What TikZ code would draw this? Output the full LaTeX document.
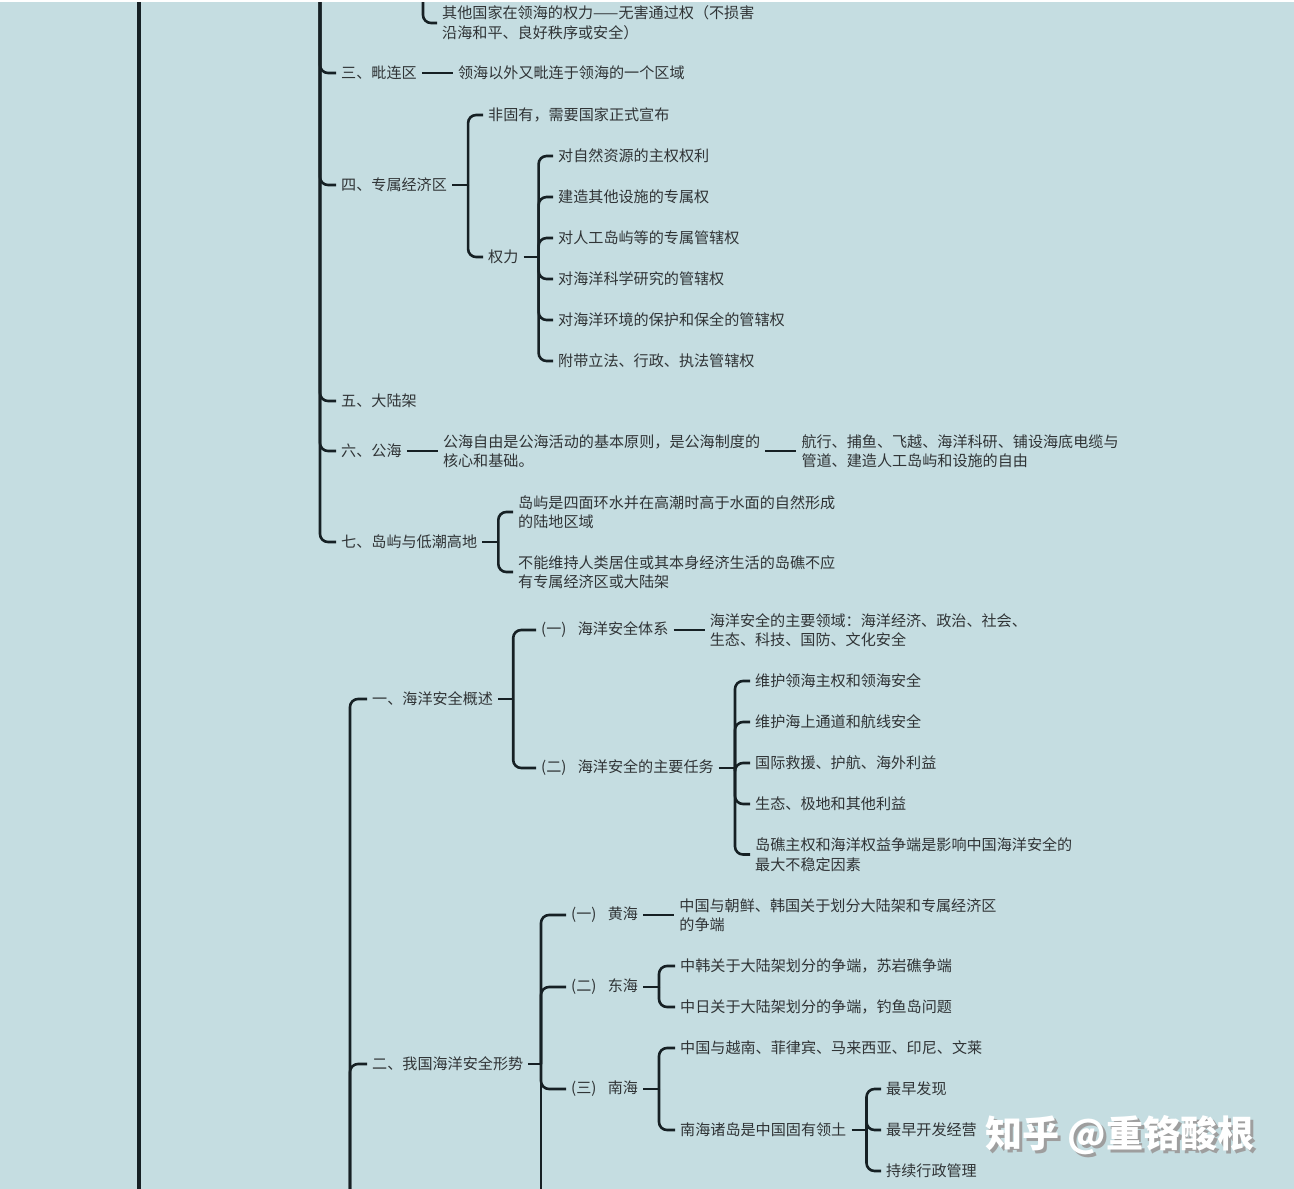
\documentclass[tikz,border=0pt]{standalone}
\usepackage{fontspec}
\newfontfamily\cjk{Noto Sans CJK SC}
\usetikzlibrary{positioning}

\definecolor{seabg}{RGB}{197,221,225}
\definecolor{linkdark}{RGB}{22,32,36}
\definecolor{textdark}{RGB}{48,52,54}
\newcommand{\parnum}[1]{(#1)\hspace{0.75em}}
\newcommand{\shadowed}[1]{\makebox[0pt][l]{\hspace{3pt}\raisebox{-3pt}{\color{black!38}#1}}#1}

\begin{document}
\begin{tikzpicture}[
	x=1pt, y=-1pt,
	font=\cjk\fontsize{15.1}{19.5}\selectfont,
	% Define styles
	topic/.style={anchor=west, inner xsep=5pt, inner ysep=2pt, align=left, text=textdark},
	link/.style={draw=linkdark, line width=2.6pt},
	branch/.style={link, rounded corners=8pt},
	trunk/.style={draw=linkdark, line width=3.8pt},
	watermark/.style={anchor=west, inner sep=0pt, text=white, font=\cjk\bfseries\fontsize{37}{40}\selectfont}
	]
	
	% background
	\useasboundingbox (0,0) rectangle (1294,1189);
	\fill[seabg] (0,0) rectangle (1294,1189);
	\fill[white] (0,0) rectangle (1294,2);
	
	% left line and free ends of the trunks
	\coordinate (lefttop) at (139,2);
	\coordinate (leftbot) at (139,1189);
	\coordinate (top320) at (320,2);
	\coordinate (top423) at (423,2);
	\coordinate (bot350) at (350,1195);
	\coordinate (bot541) at (541,1195);
	\draw[trunk] (lefttop) -- (leftbot);
	
	% 1. Upper part (zones of the sea)
	\node[topic] (rights) at (437,23) {其他国家在领海的权力——无害通过权（不损害\\沿海和平、良好秩序或安全）};
	\draw[branch] (top423) |- (rights.west);
	
	\node[topic] (contig) at (336,73) {三、毗连区};
	\node[topic, right=31pt of contig] (contigdef) {领海以外又毗连于领海的一个区域};
	
	\node[topic] (eez) at (336,185) {四、专属经济区};
	\coordinate[right=16pt of eez] (eezb);
	\node[topic] (eezdecl) at (483,115) {非固有，需要国家正式宣布};
	\node[topic] (power) at (483,257) {权力};
	\coordinate[right=15pt of power] (powerb);
	\node[topic] (power1) at (553,156) {对自然资源的主权权利};
	\node[topic] (power2) at (553,197) {建造其他设施的专属权};
	\node[topic] (power3) at (553,238) {对人工岛屿等的专属管辖权};
	\node[topic] (power4) at (553,279) {对海洋科学研究的管辖权};
	\node[topic] (power5) at (553,320) {对海洋环境的保护和保全的管辖权};
	\node[topic] (power6) at (553,361) {附带立法、行政、执法管辖权};
	
	\node[topic] (shelf) at (336,401) {五、大陆架};
	
	\node[topic] (highsea) at (336,451) {六、公海};
	\node[topic, right=31pt of highsea] (freedom) {公海自由是公海活动的基本原则，是公海制度的\\核心和基础。};
	\node[topic, right=31pt of freedom] (freelist) {航行、捕鱼、飞越、海洋科研、铺设海底电缆与\\管道、建造人工岛屿和设施的自由};
	
	\node[topic] (island) at (336,542) {七、岛屿与低潮高地};
	\coordinate[right=16pt of island] (islandb);
	\node[topic] (island1) at (513,512) {岛屿是四面环水并在高潮时高于水面的自然形成\\的陆地区域};
	\node[topic] (island2) at (513,572) {不能维持人类居住或其本身经济生活的岛礁不应\\有专属经济区或大陆架};
	
	% trunk branches
	\draw[branch] (top320) |- (contig.west);
	\draw[branch] (top320) |- (eez.west);
	\draw[branch] (top320) |- (shelf.west);
	\draw[branch] (top320) |- (highsea.west);
	\draw[branch] (top320) |- (island.west);
	
	\draw[link] (contig) -- (contigdef);
	\draw[link] (eez) -- (eezb);
	\draw[branch] (eezb) |- (eezdecl.west);
	\draw[branch] (eezb) |- (power.west);
	\draw[link] (power) -- (powerb);
	\draw[branch] (powerb) |- (power1.west);
	\draw[branch] (powerb) |- (power2.west);
	\draw[branch] (powerb) |- (power3.west);
	\draw[branch] (powerb) |- (power4.west);
	\draw[branch] (powerb) |- (power5.west);
	\draw[branch] (powerb) |- (power6.west);
	\draw[link] (highsea) -- (freedom);
	\draw[link] (freedom) -- (freelist);
	\draw[link] (island) -- (islandb);
	\draw[branch] (islandb) |- (island1.west);
	\draw[branch] (islandb) |- (island2.west);
	
	% 2. Lower part (maritime security)
	\node[topic] (secover) at (367,699) {一、海洋安全概述};
	\coordinate[right=15pt of secover] (secoverb);
	\node[topic] (system) at (536,630) {\parnum{一}海洋安全体系};
	\node[topic, right=31pt of system] (fields) {海洋安全的主要领域：海洋经济、政治、社会、\\生态、科技、国防、文化安全};
	\node[topic] (tasks) at (536,768) {\parnum{二}海洋安全的主要任务};
	\coordinate (tasksb) at (735,768);
	\node[topic] (task1) at (750,681) {维护领海主权和领海安全};
	\node[topic] (task2) at (750,722) {维护海上通道和航线安全};
	\node[topic] (task3) at (750,763) {国际救援、护航、海外利益};
	\node[topic] (task4) at (750,804) {生态、极地和其他利益};
	\node[topic] (task5) at (750,854.5) {岛礁主权和海洋权益争端是影响中国海洋安全的\\最大不稳定因素};
	
	\node[topic] (situation) at (367,1064) {二、我国海洋安全形势};
	\coordinate (situationb) at (541,1064);
	\node[topic] (yellow) at (566,915) {\parnum{一}黄海};
	\node[topic, right=31pt of yellow] (yellowd) {中国与朝鲜、韩国关于划分大陆架和专属经济区\\的争端};
	\node[topic] (east) at (566,987) {\parnum{二}东海};
	\coordinate (eastb) at (659,987);
	\node[topic] (east1) at (675,966) {中韩关于大陆架划分的争端，苏岩礁争端};
	\node[topic] (east2) at (675,1007) {中日关于大陆架划分的争端，钓鱼岛问题};
	\node[topic] (south) at (566,1089) {\parnum{三}南海};
	\coordinate (southb) at (659,1089);
	\node[topic] (south1) at (675,1048) {中国与越南、菲律宾、马来西亚、印尼、文莱};
	\node[topic] (south2) at (675,1130) {南海诸岛是中国固有领土};
	\coordinate[right=15pt of south2] (south2b);
	\node[topic] (claim1) at (881,1089) {最早发现};
	\node[topic] (claim2) at (881,1130) {最早开发经营};
	\node[topic] (claim3) at (881,1171) {持续行政管理};
	
	\draw[branch] (bot350) |- (secover.west);
	\draw[branch] (bot350) |- (situation.west);
	\draw[link] (secover) -- (secoverb);
	\draw[branch] (secoverb) |- (system.west);
	\draw[branch] (secoverb) |- (tasks.west);
	\draw[link] (system) -- (fields);
	\draw[link] (tasks) -- (tasksb);
	\draw[branch] (tasksb) |- (task1.west);
	\draw[branch] (tasksb) |- (task2.west);
	\draw[branch] (tasksb) |- (task3.west);
	\draw[branch] (tasksb) |- (task4.west);
	\draw[branch] (tasksb) |- (task5.west);
	
	\draw[link] (situation) -- (situationb);
	\draw[link] (situationb) -- (bot541);
	\draw[branch] (situationb) |- (yellow.west);
	\draw[branch] (situationb) |- (east.west);
	\draw[branch] (situationb) |- (south.west);
	\draw[link] (yellow) -- (yellowd);
	\draw[link] (east) -- (eastb);
	\draw[branch] (eastb) |- (east1.west);
	\draw[branch] (eastb) |- (east2.west);
	\draw[link] (south) -- (southb);
	\draw[branch] (southb) |- (south1.west);
	\draw[branch] (southb) |- (south2.west);
	\draw[link] (south2) -- (south2b);
	\draw[branch] (south2b) |- (claim1.west);
	\draw[branch] (south2b) |- (claim2.west);
	\draw[branch] (south2b) |- (claim3.west);
	
	% 3. Watermark
	\node[watermark] (wm) at (985,1137) {\shadowed{知乎 @重铬酸根}};
\end{tikzpicture}
\end{document}
